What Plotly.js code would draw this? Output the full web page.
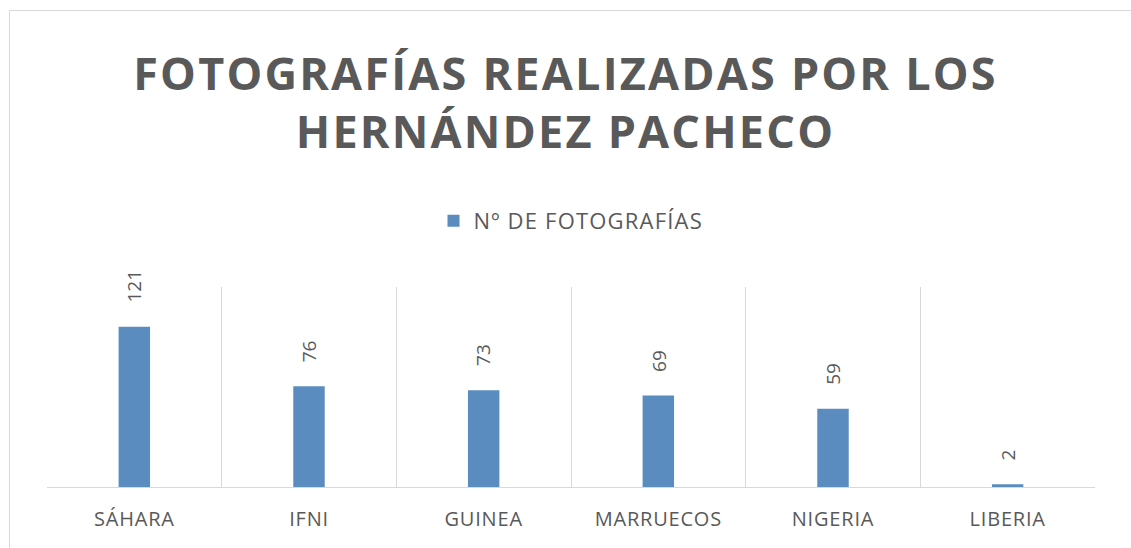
<!DOCTYPE html>
<html>
<head>
<meta charset="utf-8">
<script src="https://cdn.plot.ly/plotly-3.0.1.min.js"></script>
<style>
  html, body { margin: 0; padding: 0; background: #ffffff; }
  #wrap { position: relative; width: 1131px; height: 548px; overflow: hidden; }
  #chart { width: 1131px; height: 548px; }
  #frame { position: absolute; left: 9px; top: 10px; width: 1200px; height: 600px;
           border: 1px solid #d9d9d9; box-sizing: border-box; pointer-events: none; }
  .gtitle { letter-spacing: 2.2px; }
  .xtick text { letter-spacing: 0.8px; }
  .legendtext { letter-spacing: 1.2px; }
</style>
</head>
<body>
<div id="wrap">
  <div id="chart"></div>
  <div id="frame"></div>
</div>
<script>
const categories = ["SÁHARA", "IFNI", "GUINEA", "MARRUECOS", "NIGERIA", "LIBERIA"];
const photoCounts = [121, 76, 73, 69, 59, 2];
const seriesName = "Nº DE FOTOGRAFÍAS";
const chartTitle = "FOTOGRAFÍAS REALIZADAS POR LOS<br>HERNÁNDEZ PACHECO";

const textColor = "#595959";
const barColor = "#5b8cbf";
const fontFamily = "'Open Sans', 'Noto Sans', sans-serif";

const trace = {
  type: "bar",
  x: categories,
  y: photoCounts,
  name: seriesName,
  width: 0.18,
  marker: { color: barColor },
  hoverinfo: "skip",
  showlegend: true
};

const annotations = categories.map((c, i) => ({
  x: c,
  y: photoCounts[i],
  xref: "x",
  yref: "y",
  text: String(photoCounts[i]),
  showarrow: false,
  textangle: -90,
  xanchor: "center",
  yanchor: "bottom",
  yshift: 22,
  font: { family: fontFamily, size: 19, color: textColor }
}));

const layout = {
  width: 1131,
  height: 548,
  paper_bgcolor: "rgba(0,0,0,0)",
  plot_bgcolor: "rgba(0,0,0,0)",
  margin: { l: 47, r: 36, t: 287, b: 61, pad: 0 },
  title: {
    text: chartTitle,
    x: 0.5,
    xanchor: "center",
    y: 0.836,
    yanchor: "middle",
    font: { family: fontFamily, size: 45, color: textColor, weight: 700 }
  },
  showlegend: true,
  legend: {
    orientation: "h",
    x: 0.5,
    xanchor: "center",
    y: 1.33,
    yanchor: "middle",
    font: { family: fontFamily, size: 22, color: textColor },
    itemwidth: 30
  },
  xaxis: {
    type: "category",
    tickson: "boundaries",
    showgrid: true,
    gridcolor: "#d9d9d9",
    gridwidth: 1,
    ticks: "",
    showline: true,
    linecolor: "#d9d9d9",
    linewidth: 1,
    mirror: false,
    ticklabelstandoff: 14,
    tickfont: { family: fontFamily, size: 20, color: textColor },
    fixedrange: true
  },
  yaxis: {
    range: [0, 151],
    showgrid: false,
    zeroline: false,
    showticklabels: false,
    ticks: "",
    showline: false,
    fixedrange: true
  },
  annotations: annotations,
  bargap: 0.82
};

Plotly.newPlot("chart", [trace], layout, { displayModeBar: false, staticPlot: true });
</script>
</body>
</html>
